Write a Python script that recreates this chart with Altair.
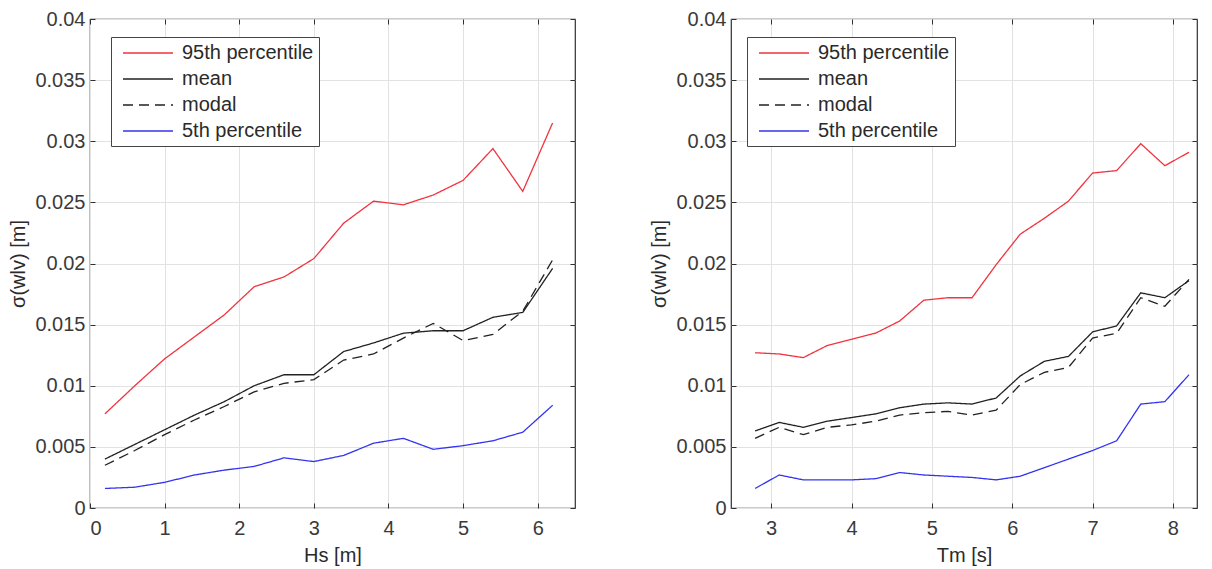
import altair as alt
import pandas as pd

# ---- data ----
series = ["95th percentile", "mean", "modal", "5th percentile"]

hs = [0.2, 0.6, 1.0, 1.4, 1.8, 2.2, 2.6, 3.0, 3.4, 3.8, 4.2, 4.6, 5.0, 5.4, 5.8, 6.2]
hs_p95 = [0.0077, 0.0100, 0.0122, 0.0140, 0.0158, 0.0181, 0.0189, 0.0204, 0.0233, 0.0251, 0.0248, 0.0256, 0.0268, 0.0294, 0.0259, 0.0315]
hs_mean = [0.0040, 0.0052, 0.0064, 0.0076, 0.0087, 0.0100, 0.0109, 0.0109, 0.0128, 0.0135, 0.0143, 0.0145, 0.0145, 0.0156, 0.0160, 0.0196]
hs_modal = [0.0035, 0.0047, 0.0060, 0.0072, 0.0083, 0.0095, 0.0102, 0.0105, 0.0121, 0.0126, 0.0139, 0.0151, 0.0137, 0.0142, 0.0161, 0.0203]
hs_p5 = [0.0016, 0.0017, 0.0021, 0.0027, 0.0031, 0.0034, 0.0041, 0.0038, 0.0043, 0.0053, 0.0057, 0.0048, 0.0051, 0.0055, 0.0062, 0.0084]

tm = [2.8, 3.1, 3.4, 3.7, 4.0, 4.3, 4.6, 4.9, 5.2, 5.5, 5.8, 6.1, 6.4, 6.7, 7.0, 7.3, 7.6, 7.9, 8.2]
tm_p95 = [0.0127, 0.0126, 0.0123, 0.0133, 0.0138, 0.0143, 0.0153, 0.0170, 0.0172, 0.0172, 0.0199, 0.0224, 0.0237, 0.0251, 0.0274, 0.0276, 0.0298, 0.0280, 0.0291]
tm_mean = [0.0063, 0.0070, 0.0066, 0.0071, 0.0074, 0.0077, 0.0082, 0.0085, 0.0086, 0.0085, 0.0090, 0.0108, 0.0120, 0.0124, 0.0144, 0.0149, 0.0176, 0.0172, 0.0186]
tm_modal = [0.0057, 0.0066, 0.0060, 0.0066, 0.0068, 0.0071, 0.0076, 0.0078, 0.0079, 0.0076, 0.0080, 0.0101, 0.0111, 0.0115, 0.0139, 0.0143, 0.0172, 0.0165, 0.0187]
tm_p5 = [0.0016, 0.0027, 0.0023, 0.0023, 0.0023, 0.0024, 0.0029, 0.0027, 0.0026, 0.0025, 0.0023, 0.0026, 0.0033, 0.0040, 0.0047, 0.0055, 0.0085, 0.0087, 0.0109]

y_ticks = [0, 0.005, 0.01, 0.015, 0.02, 0.025, 0.03, 0.035, 0.04]
hs_ticks = [0, 1, 2, 3, 4, 5, 6]
tm_ticks = [3, 4, 5, 6, 7, 8]

colors = ["#f0343f", "#222222", "#222222", "#3434f0"]
dashes = [[1, 0], [1, 0], [10, 6], [1, 0]]


def long_df(x, cols):
    rows = []
    for name, vals in zip(series, cols):
        for xi, vi in zip(x, vals):
            rows.append({"x": xi, "v": vi, "s": name})
    return pd.DataFrame(rows)


df_hs = long_df(hs, [hs_p95, hs_mean, hs_modal, hs_p5])
df_tm = long_df(tm, [tm_p95, tm_mean, tm_modal, tm_p5])

FONT = "Liberation Sans"
TICK = "#303030"


def make_legend(lx):
    return alt.Legend(
        title=None, orient="none", legendX=lx, legendY=18,
        symbolType="M-0.4,0H4.6", symbolSize=400, symbolStrokeWidth=1.3,
        labelFontSize=20, labelFont=FONT, labelColor="#2a2a2a", labelOffset=44,
        padding=5, rowPadding=5, strokeColor="#444444", fillColor="white",
    )


def panel(df, xtitle, xdom, xvals, width, lx):
    xs = alt.Scale(domain=xdom, nice=False, zero=False)
    ys = alt.Scale(domain=[0, 0.04], nice=False)
    legend = make_legend(lx)
    lines = alt.Chart(df).mark_line(strokeWidth=1.3, clip=True).encode(
        x=alt.X("x:Q", scale=xs,
                axis=alt.Axis(values=xvals, title=xtitle, format="d", offset=-5,
                              ticks=True, tickSize=5, tickColor=TICK, grid=True)),
        y=alt.Y("v:Q", scale=ys,
                axis=alt.Axis(values=y_ticks, format=".3~f", title="σ(wlv) [m]", offset=-5,
                              ticks=True, tickSize=5, tickColor=TICK, grid=True)),
        color=alt.Color("s:N", scale=alt.Scale(domain=series, range=colors), legend=legend),
        strokeDash=alt.StrokeDash("s:N", scale=alt.Scale(domain=series, range=dashes), legend=legend),
        order=alt.Order("x:Q"),
    )
    frame = alt.Chart(df).mark_line(opacity=0).encode(
        x=alt.X("x:Q", scale=xs,
                axis=alt.Axis(orient="top", values=xvals, labels=False, title=None, grid=False,
                              ticks=True, tickSize=5, tickColor=TICK, offset=-5, minExtent=0)),
        y=alt.Y("v:Q", scale=ys,
                axis=alt.Axis(orient="right", values=y_ticks, labels=False, title=None, grid=False,
                              ticks=True, tickSize=5, tickColor=TICK, offset=-5, minExtent=0)),
        detail="s:N",
    )
    return alt.layer(lines, frame).resolve_axis(
        x="independent", y="independent"
    ).properties(width=width, height=489)


left = panel(df_hs, "Hs [m]", [0, 6.5], hs_ticks, 485, 21)
right = panel(df_tm, "Tm [s]", [2.5, 8.3], tm_ticks, 466, 16)

chart = alt.hconcat(left, right, spacing=72).resolve_scale(
    color="independent", strokeDash="independent"
).resolve_legend(
    color="independent", strokeDash="independent"
).properties(
    padding={"left": 0, "top": 0, "right": 0, "bottom": 0}
).configure_view(
    stroke="#303030", strokeWidth=1.2
).configure_axis(
    domain=False, gridColor="#e2e2e2", gridWidth=1,
    labelFont=FONT, labelFontSize=20, labelColor="#3a3a3a",
    titleFont=FONT, titleFontSize=20, titleFontWeight="normal", titleColor="#2a2a2a",
).configure_axisX(
    labelPadding=10, titlePadding=7
).configure_axisY(
    labelPadding=5, titlePadding=6
)

chart.save("out.html", embed_options={"renderer": "svg", "actions": False})
